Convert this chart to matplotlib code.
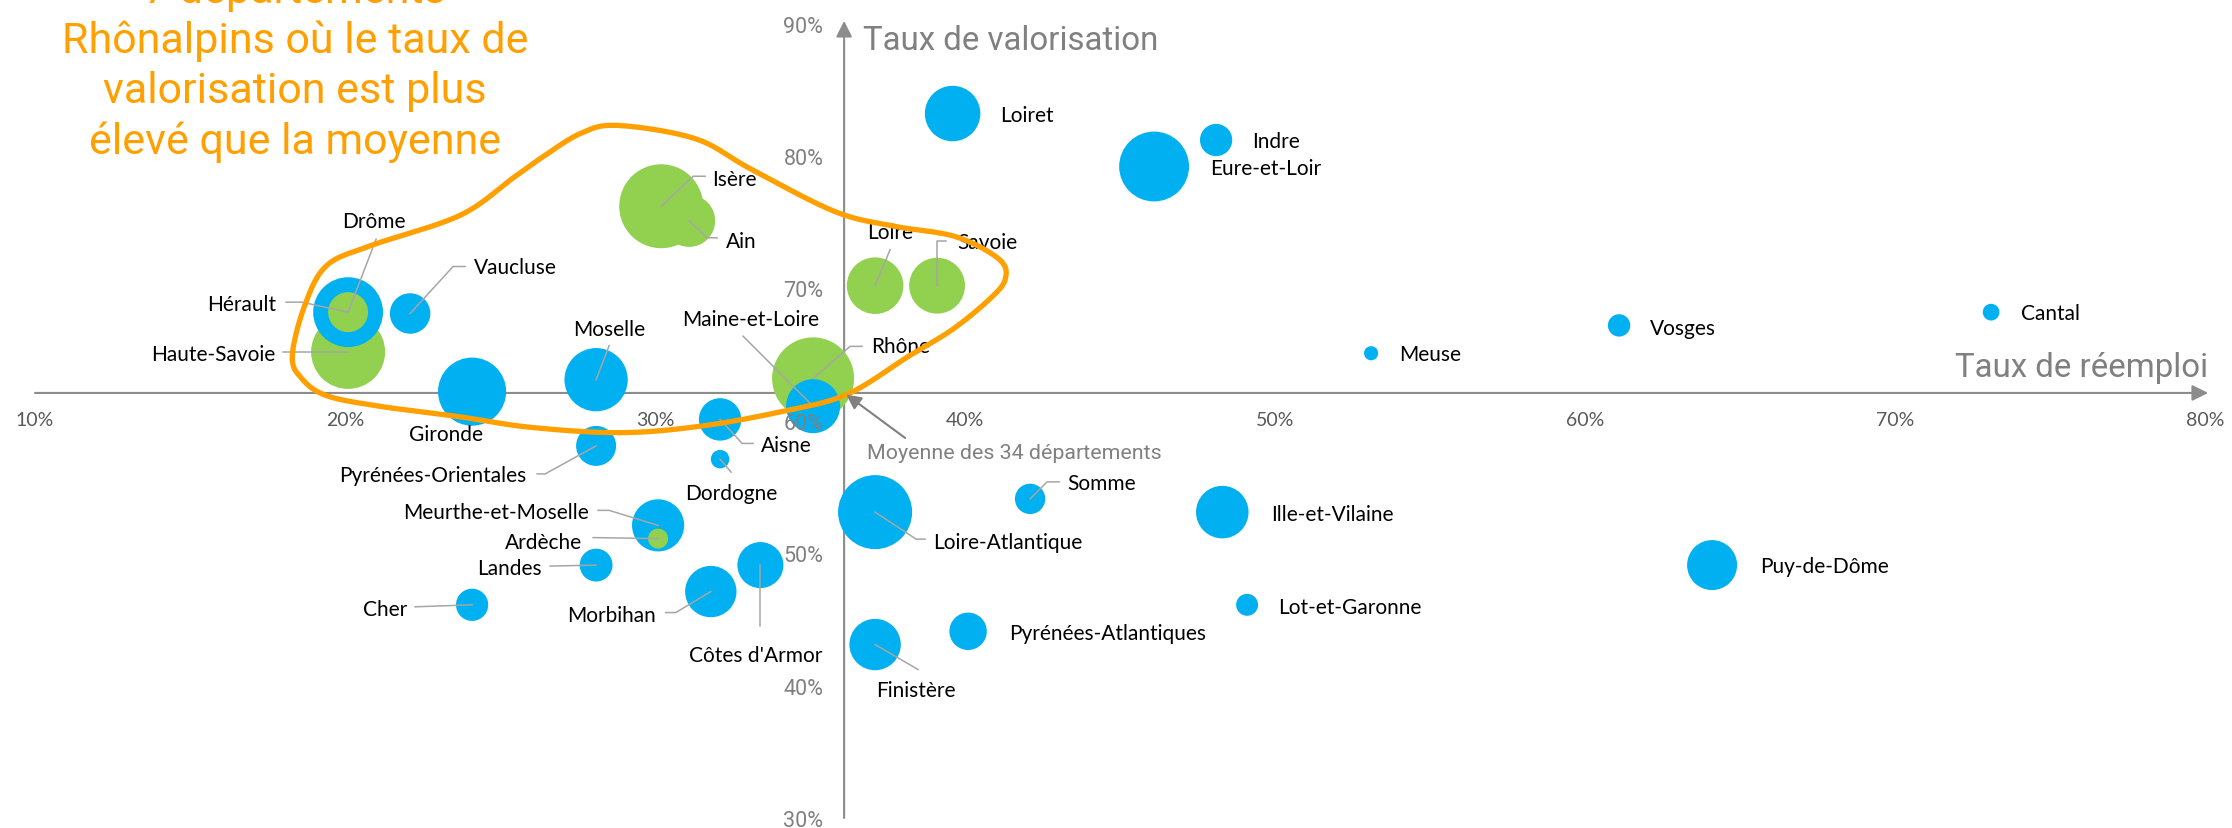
import numpy as np
import matplotlib
matplotlib.use('Agg')
import matplotlib.pyplot as plt

# --- données (taux en %) ---
departements = ['Loiret', 'Indre', 'Eure-et-Loir', 'Loire', 'Savoie', 'Rhône', 'Maine-et-Loire',
                'Meuse', 'Vosges', 'Cantal', 'Ain', 'Isère', 'Haute-Savoie', 'Hérault', 'Drôme',
                'Vaucluse', 'Gironde', 'Moselle', 'Aisne', 'Dordogne', 'Pyrénées-Orientales',
                'Meurthe-et-Moselle', 'Ardèche', 'Landes', 'Cher', 'Morbihan', "Côtes d'Armor",
                'Loire-Atlantique', 'Somme', 'Ille-et-Vilaine', 'Lot-et-Garonne',
                'Pyrénées-Atlantiques', 'Finistère', 'Puy-de-Dôme']
reemploi = [39.6, 48.1, 46.1, 37.1, 39.1, 35.1, 35.1,
            53.1, 61.1, 73.1, 31.1, 30.2, 20.1, 20.1, 20.1,
            22.1, 24.1, 28.1, 32.1, 32.1, 28.1,
            30.1, 30.1, 28.1, 24.1, 31.8, 33.4,
            37.1, 42.1, 48.3, 49.1,
            40.1, 37.1, 64.1]
valorisation = [83.2, 81.2, 79.2, 70.2, 70.2, 63.2, 61.1,
                65.1, 67.2, 68.2, 75.1, 76.2, 65.2, 68.2, 68.2,
                68.1, 62.2, 63.1, 60.1, 57.1, 58.1,
                52.1, 51.1, 49.1, 46.1, 47.1, 49.1,
                53.1, 54.1, 53.1, 46.1,
                44.1, 43.1, 49.1]
tonnage = [7.7, 2.6, 12.2, 8.0, 7.8, 16.8, 7.3,
           0.5, 1.25, 0.7, 6.8, 17.6, 13.7, 12.2, 4.0,
           4.1, 11.6, 10.0, 4.5, 0.86, 4.0,
           6.8, 1.0, 2.7, 2.6, 6.6, 5.3,
           13.7, 2.3, 6.9, 1.2,
           3.5, 6.6, 6.25]
rhonalpins = ['Ain', 'Ardèche', 'Drôme', 'Isère', 'Loire', 'Rhône', 'Savoie', 'Haute-Savoie']
moyenne_reemploi = 36.1
moyenne_valorisation = 62.1
x_ticks = [10, 20, 30, 40, 50, 60, 70, 80]
y_ticks = [30, 40, 50, 60, 70, 80, 90]
titre = ['7 départements', 'Rhônalpins où le taux de', 'valorisation est plus', 'élevé que la moyenne']

# placement des étiquettes: décalage en pixels depuis le centre (y vers le bas), alignement, trait de rappel
etiquettes = {
    'Loiret': (48, 1, 'left', []),
    'Indre': (36, 1, 'left', []),
    'Eure-et-Loir': (56, 1, 'left', []),
    'Loire': (-8, -54, 'left', [(0, 0), (15, -36)]),
    'Savoie': (20, -44, 'left', [(0, 0), (0, -45), (9, -45)]),
    'Rhône': (58, -32, 'left', [(0, 0), (37, -32), (49, -32)]),
    'Maine-et-Loire': (-62, -87, 'center', [(0, 0), (-70, -70)]),
    'Meuse': (28, 1, 'left', []),
    'Vosges': (31, 3, 'left', []),
    'Cantal': (30, 1, 'left', []),
    'Isère': (51, -27, 'left', [(0, 0), (32, -30), (44, -30)]),
    'Ain': (37, 20, 'left', [(0, 0), (18, 17), (28, 17)]),
    'Drôme': (26, -91, 'center', [(0, 0), (28, -73)]),
    'Hérault': (-72, -8, 'right', [(0, 0), (-46, -10), (-62, -10)]),
    'Haute-Savoie': (-73, 2, 'right', [(0, 0), (-65, 0)]),
    'Vaucluse': (64, -46, 'left', [(0, 0), (43, -47), (55, -47)]),
    'Gironde': (-26, 42, 'center', []),
    'Moselle': (13, -51, 'center', [(0, 0), (13, -34)]),
    'Aisne': (41, 26, 'left', [(0, 0), (22, 24), (33, 24)]),
    'Dordogne': (-35, 34, 'left', [(0, 0), (11, 13)]),
    'Pyrénées-Orientales': (-70, 29, 'right', [(0, 0), (-51, 28), (-59, 28)]),
    'Meurthe-et-Moselle': (-69, -13, 'right', [(0, 0), (-49, -15), (-60, -15)]),
    'Ardèche': (-76, 3, 'right', [(0, 0), (-65, -1)]),
    'Landes': (-54, 3, 'right', [(0, 0), (-46, 1)]),
    'Cher': (-65, 4, 'right', [(0, 0), (-57, 2)]),
    'Morbihan': (-55, 23, 'right', [(0, 0), (-35, 21), (-45, 21)]),
    "Côtes d'Armor": (-71, 90, 'left', [(0, 0), (0, 61)]),
    'Loire-Atlantique': (58, 30, 'left', [(0, 0), (41, 27), (50, 27)]),
    'Somme': (37, -16, 'left', [(0, 0), (17, -17), (29, -17)]),
    'Ille-et-Vilaine': (49, 2, 'left', []),
    'Lot-et-Garonne': (31, 2, 'left', []),
    'Pyrénées-Atlantiques': (41, 2, 'left', []),
    'Finistère': (1, 45, 'left', [(0, 0), (43, 25)]),
    'Puy-de-Dôme': (48, 1, 'left', []),
}

# contour orange autour des départements rhônalpins
contour = [(28.8, 82.3), (31.3, 81.3), (33.1, 79.0), (35.8, 75.8), (37.7, 74.7), (39.7, 73.9),
           (41.1, 72.2), (41.3, 70.7), (40.8, 69.2), (39.6, 66.9), (38.2, 64.9), (36.2, 62.0),
           (34.1, 60.7), (31.5, 59.6), (28.9, 59.1), (26.0, 59.5), (23.7, 60.3), (21.1, 61.1),
           (19.4, 61.9), (18.6, 63.2), (18.3, 64.9), (18.7, 68.7), (19.4, 71.7), (20.8, 73.2),
           (23.7, 75.5), (25.4, 78.3), (26.3, 79.8), (27.6, 81.7)]

BLEU = '#00B0F0'
VERT = '#92D050'
ORANGE = '#FFA000'
GRIS = '#808080'

W, H = 2232, 829
fig = plt.figure(figsize=(W / 100, H / 100), dpi=100)
x0, x1, y0, y1 = 35, 2205, 24.5, 819
ax = fig.add_axes([x0 / W, 1 - y1 / H, (x1 - x0) / W, (y1 - y0) / H])
ax.set_xlim(10, 80)
ax.set_ylim(30, 90)
kx = (x1 - x0) / 70.0
ky = (y1 - y0) / 60.0

for s in ax.spines.values():
    s.set_visible(False)
ax.spines['left'].set_position(('data', moyenne_reemploi))
ax.spines['bottom'].set_position(('data', moyenne_valorisation))
ax.set_xticks(x_ticks)
ax.set_xticklabels(['%d%%' % v for v in x_ticks], fontfamily='Lato')
ax.set_yticks(y_ticks)
ax.set_yticklabels(['%d%%' % v for v in y_ticks], fontfamily='Roboto')
ax.tick_params(length=0)
ax.tick_params(axis='x', pad=13, labelsize=14, labelcolor='#595959')
ax.tick_params(axis='y', pad=15, labelsize=15.5, labelcolor=GRIS)
ax.yaxis.set_zorder(4.5)
ax.xaxis.set_zorder(4.5)

# axes fléchés
fleche = dict(arrowstyle='-|>', color='#8C8C8C', lw=1.5, mutation_scale=24, shrinkA=0, shrinkB=0)
ax.annotate('', xy=(80.1, moyenne_valorisation), xytext=(10, moyenne_valorisation),
            arrowprops=fleche, annotation_clip=False, zorder=1)
ax.annotate('', xy=(moyenne_reemploi, 90.2), xytext=(moyenne_reemploi, 30),
            arrowprops=fleche, annotation_clip=False, zorder=1)

# bulles
couleurs = [VERT if d in rhonalpins else BLEU for d in departements]
ax.scatter(reemploi, valorisation, s=np.array(tonnage) * 207.4, c=couleurs,
           edgecolors='none', zorder=3)

# étiquettes
for i, d in enumerate(departements):
    cx, cy = reemploi[i], valorisation[i]
    dx, dy, ha, trait = etiquettes[d]
    ax.annotate(d, (cx, cy), xytext=(dx, -dy), textcoords='offset pixels',
                ha=ha, va='center', fontsize=15, fontfamily='Lato', color='black', zorder=4)
    if trait:
        ax.plot([cx + ox / kx for ox, oy in trait], [cy - oy / ky for ox, oy in trait],
                color='#A6A6A6', lw=1.1, zorder=3.5)

# contour lissé (Catmull-Rom fermé)
P = np.array(contour)
t = np.linspace(0, 1, 30, endpoint=False)[:, None]
morceaux = []
for i in range(len(P)):
    p0, p1, p2, p3 = P[i - 1], P[i], P[(i + 1) % len(P)], P[(i + 2) % len(P)]
    morceaux.append(0.5 * (2 * p1 + (p2 - p0) * t + (2 * p0 - 5 * p1 + 4 * p2 - p3) * t ** 2
                           + (3 * p1 - p0 - 3 * p2 + p3) * t ** 3))
courbe = np.vstack(morceaux + [morceaux[0][:1]])
ax.plot(courbe[:, 0], courbe[:, 1], color=ORANGE, lw=3.8, zorder=5, solid_capstyle='round')

# titres des axes
ax.annotate('Taux de valorisation', (moyenne_reemploi, 90), xytext=(19, -25.5),
            textcoords='offset pixels', ha='left', va='baseline', fontsize=23.8,
            fontfamily='Roboto', color=GRIS, annotation_clip=False)
ax.annotate('Taux de réemploi', (80, moyenne_valorisation), xytext=(3, 17),
            textcoords='offset pixels', ha='right', va='baseline', fontsize=23.8,
            fontfamily='Roboto', color=GRIS, annotation_clip=False)

# moyenne
ax.annotate('', (moyenne_reemploi, moyenne_valorisation), xytext=(61, -45),
            textcoords='offset pixels',
            arrowprops=dict(arrowstyle='-|>', color='#808080', lw=1.5, mutation_scale=22,
                            shrinkA=0, shrinkB=2), zorder=6)
ax.annotate('Moyenne des 34 départements', (moyenne_reemploi, moyenne_valorisation),
            xytext=(23, -60), textcoords='offset pixels', ha='left', va='center',
            fontsize=15.4, fontfamily='Roboto', color=GRIS)

# titre orange (première ligne coupée par le bord, comme l'original)
for ligne, base in zip(titre, [3, 53, 103.5, 154]):
    fig.text(295 / W, 1 - base / H, ligne, ha='center', va='baseline', fontsize=31,
             fontfamily='Roboto', color=ORANGE)

fig.savefig('out.png', dpi=100)
